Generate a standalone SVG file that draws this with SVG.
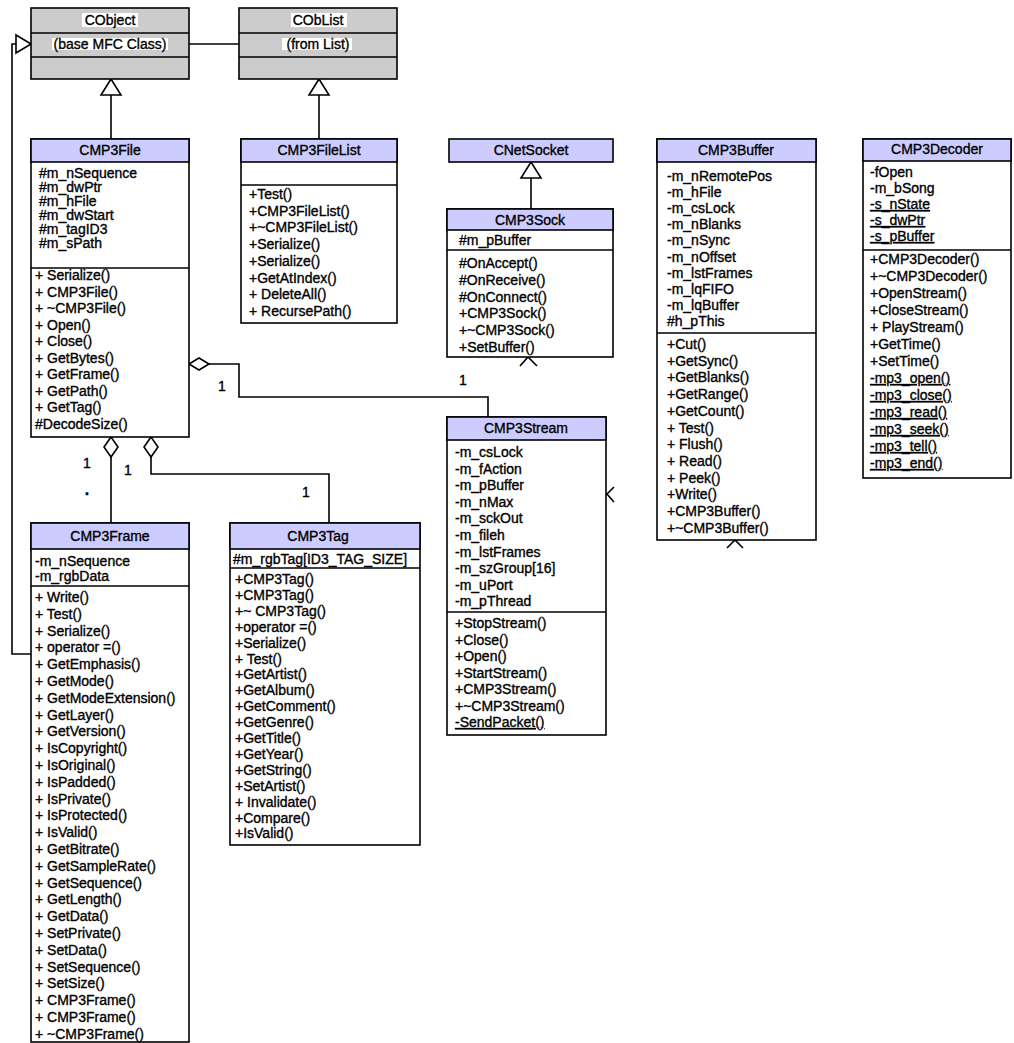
<svg xmlns="http://www.w3.org/2000/svg" width="1014" height="1043" viewBox="0 0 1014 1043">
  <style>
    text { font-family: "Liberation Sans", Arial, sans-serif; font-size: 14px; fill: #000; stroke: #000; stroke-width: 0.35; }
    .c { text-anchor: middle; }
    .u { text-decoration: underline; }
    .dot { font-weight: bold; font-size: 16px; }
    .box { fill: #fff; stroke: #000; stroke-width: 1.6; }
    .gray { fill: #cccccc; stroke: #000; stroke-width: 1.6; }
    .hd { fill: #ccccff; stroke: #000; stroke-width: 1.6; }
    .sep { stroke: #000; stroke-width: 1.6; }
    .ln { fill: none; stroke: #000; stroke-width: 1.6; }
    .dia { fill: #fff; stroke: #000; stroke-width: 1.6; }
    .hl { fill: #fff; }
  </style>
  <defs>
    <!-- hollow generalization triangle, apex at origin pointing up -->
    <polygon id="tri" points="0,0 -10,16 10,16" class="dia"/>
  </defs>

  <rect width="1014" height="1043" fill="#fff"/>

  <!-- ===== connectors ===== -->
  <g id="connectors">
    <!-- CObject - CObList association -->
    <line class="ln" x1="189" y1="44" x2="239" y2="44"/>
    <!-- CMP3File inherits CObject -->
    <line class="ln" x1="111" y1="139" x2="111" y2="95"/>
    <use href="#tri" x="111" y="79"/>
    <!-- CMP3FileList inherits CObList -->
    <line class="ln" x1="319" y1="139" x2="319" y2="95"/>
    <use href="#tri" x="319" y="79"/>
    <!-- CMP3Sock inherits CNetSocket -->
    <line class="ln" x1="531" y1="209" x2="531" y2="178"/>
    <use href="#tri" x="531" y="162"/>
    <!-- CMP3Frame inherits CObject -->
    <path class="ln" d="M31,654 H12 V44 H16"/>
    <polygon class="dia" points="31,44 16,35 16,53"/>

    <!-- CMP3File aggregates CMP3Stream -->
    <path class="ln" d="M209,364 H239 V397 H488 V417"/>
    <polygon class="dia" points="189,364 199,358 209,364 199,370"/>
    <text x="222" y="391" class="c">1</text>
    <text x="463" y="385" class="c">1</text>

    <!-- CMP3File aggregates CMP3Frame -->
    <line class="ln" x1="111" y1="457" x2="111" y2="523"/>
    <polygon class="dia" points="111,437 118,447 111,457 104,447"/>
    <text x="87" y="468" class="c">1</text>
    <text x="87" y="495" class="c dot">.</text>
    <text x="128" y="475" class="c">1</text>

    <!-- CMP3File aggregates CMP3Tag -->
    <path class="ln" d="M151,457 V474 H329 V523"/>
    <polygon class="dia" points="151,437 158,447 151,457 144,447"/>
    <text x="306" y="497" class="c">1</text>

    <!-- navigability arrowheads -->
    <polyline class="ln" points="520,366 528,357 537,366"/>
    <polyline class="ln" points="727,548 735,540 743,548"/>
    <polyline class="ln" points="614,487 607,494 614,502"/>
  </g>

  <!-- ===== CObject ===== -->
  <g id="CObject">
    <rect class="gray" x="31" y="8" width="158" height="71"/>
    <line class="sep" x1="31" y1="33" x2="189" y2="33"/>
    <line class="sep" x1="31" y1="57" x2="189" y2="57"/>
    <rect class="hl" x="82" y="13" width="56" height="14"/>
    <text x="110" y="25" class="c">CObject</text>
    <rect class="hl" x="52" y="38" width="116" height="12"/>
    <text x="110" y="49" class="c">(base MFC Class)</text>
  </g>

  <!-- ===== CObList ===== -->
  <g id="CObList">
    <rect class="gray" x="239" y="8" width="158" height="71"/>
    <line class="sep" x1="239" y1="33" x2="397" y2="33"/>
    <line class="sep" x1="239" y1="57" x2="397" y2="57"/>
    <rect class="hl" x="291" y="13" width="56" height="14"/>
    <text x="318" y="25" class="c">CObList</text>
    <rect class="hl" x="282" y="38" width="70" height="12"/>
    <text x="318" y="49" class="c">(from List)</text>
  </g>

  <!-- ===== CMP3File ===== -->
  <g id="CMP3File">
    <rect class="box" x="31" y="139" width="158" height="298"/>
    <rect class="hd" x="31" y="139" width="158" height="23"/>
    <line class="sep" x1="31" y1="268" x2="189" y2="268"/>
    <text x="110" y="155" class="c">CMP3File</text>
    <text x="39" y="178">#m_nSequence</text>
    <text x="39" y="192">#m_dwPtr</text>
    <text x="39" y="206">#m_hFile</text>
    <text x="39" y="220">#m_dwStart</text>
    <text x="39" y="234">#m_tagID3</text>
    <text x="39" y="248">#m_sPath</text>
    <text x="35" y="280">+ Serialize()</text>
    <text x="35" y="296.5">+ CMP3File()</text>
    <text x="35" y="313">+ ~CMP3File()</text>
    <text x="35" y="329.5">+ Open()</text>
    <text x="35" y="346">+ Close()</text>
    <text x="35" y="362.5">+ GetBytes()</text>
    <text x="35" y="379">+ GetFrame()</text>
    <text x="35" y="395.5">+ GetPath()</text>
    <text x="35" y="412">+ GetTag()</text>
    <text x="35" y="428.5">#DecodeSize()</text>
  </g>

  <!-- ===== CMP3FileList ===== -->
  <g id="CMP3FileList">
    <rect class="box" x="241" y="139" width="156" height="184"/>
    <rect class="hd" x="241" y="139" width="156" height="23"/>
    <line class="sep" x1="241" y1="185" x2="397" y2="185"/>
    <text x="319" y="155" class="c">CMP3FileList</text>
    <text x="249" y="199">+Test()</text>
    <text x="249" y="215.7">+CMP3FileList()</text>
    <text x="249" y="232.4">+~CMP3FileList()</text>
    <text x="249" y="249.1">+Serialize()</text>
    <text x="249" y="265.8">+Serialize()</text>
    <text x="249" y="282.5">+GetAtIndex()</text>
    <text x="249" y="299.2">+ DeleteAll()</text>
    <text x="249" y="315.9">+ RecursePath()</text>
  </g>

  <!-- ===== CNetSocket ===== -->
  <g id="CNetSocket">
    <rect class="hd" x="449" y="139" width="164" height="23"/>
    <text x="531" y="155" class="c">CNetSocket</text>
  </g>

  <!-- ===== CMP3Sock ===== -->
  <g id="CMP3Sock">
    <rect class="box" x="447" y="209" width="166" height="148"/>
    <rect class="hd" x="447" y="209" width="166" height="21"/>
    <line class="sep" x1="447" y1="250" x2="613" y2="250"/>
    <text x="530" y="225" class="c">CMP3Sock</text>
    <text x="459" y="245">#m_pBuffer</text>
    <text x="459" y="268">#OnAccept()</text>
    <text x="459" y="284.8">#OnReceive()</text>
    <text x="459" y="301.6">#OnConnect()</text>
    <text x="459" y="318.4">+CMP3Sock()</text>
    <text x="459" y="335.2">+~CMP3Sock()</text>
    <text x="459" y="352">+SetBuffer()</text>
  </g>

  <!-- ===== CMP3Buffer ===== -->
  <g id="CMP3Buffer">
    <rect class="box" x="657" y="139" width="159" height="401"/>
    <rect class="hd" x="657" y="139" width="159" height="23"/>
    <line class="sep" x1="657" y1="333" x2="816" y2="333"/>
    <text x="736" y="155" class="c">CMP3Buffer</text>
    <text x="667" y="181">-m_nRemotePos</text>
    <text x="667" y="197.1">-m_hFile</text>
    <text x="667" y="213.2">-m_csLock</text>
    <text x="667" y="229.3">-m_nBlanks</text>
    <text x="667" y="245.4">-m_nSync</text>
    <text x="667" y="261.5">-m_nOffset</text>
    <text x="667" y="277.6">-m_lstFrames</text>
    <text x="667" y="293.7">-m_lqFIFO</text>
    <text x="667" y="309.8">-m_lqBuffer</text>
    <text x="667" y="325.9">#h_pThis</text>
    <text x="667" y="349">+Cut()</text>
    <text x="667" y="365.7">+GetSync()</text>
    <text x="667" y="382.4">+GetBlanks()</text>
    <text x="667" y="399.1">+GetRange()</text>
    <text x="667" y="415.8">+GetCount()</text>
    <text x="667" y="432.5">+ Test()</text>
    <text x="667" y="449.2">+ Flush()</text>
    <text x="667" y="465.9">+ Read()</text>
    <text x="667" y="482.6">+ Peek()</text>
    <text x="667" y="499.3">+Write()</text>
    <text x="667" y="516">+CMP3Buffer()</text>
    <text x="667" y="532.7">+~CMP3Buffer()</text>
  </g>

  <!-- ===== CMP3Decoder ===== -->
  <g id="CMP3Decoder">
    <rect class="box" x="863" y="139" width="148" height="339"/>
    <rect class="hd" x="863" y="139" width="148" height="22"/>
    <line class="sep" x1="863" y1="250" x2="1011" y2="250"/>
    <text x="937" y="154" class="c">CMP3Decoder</text>
    <text x="870" y="177">-fOpen</text>
    <text x="870" y="193">-m_bSong</text>
    <text x="870" y="209" class="u">-s_nState</text>
    <text x="870" y="225" class="u">-s_dwPtr</text>
    <text x="870" y="241" class="u">-s_pBuffer</text>
    <text x="870" y="264">+CMP3Decoder()</text>
    <text x="870" y="281">+~CMP3Decoder()</text>
    <text x="870" y="298">+OpenStream()</text>
    <text x="870" y="315">+CloseStream()</text>
    <text x="870" y="332">+ PlayStream()</text>
    <text x="870" y="349">+GetTime()</text>
    <text x="870" y="366">+SetTime()</text>
    <text x="870" y="383" class="u">-mp3_open()</text>
    <text x="870" y="400" class="u">-mp3_close()</text>
    <text x="870" y="417" class="u">-mp3_read()</text>
    <text x="870" y="434" class="u">-mp3_seek()</text>
    <text x="870" y="451" class="u">-mp3_tell()</text>
    <text x="870" y="468" class="u">-mp3_end()</text>
  </g>

  <!-- ===== CMP3Stream ===== -->
  <g id="CMP3Stream">
    <rect class="box" x="447" y="417" width="159" height="318"/>
    <rect class="hd" x="447" y="417" width="159" height="23"/>
    <line class="sep" x1="447" y1="612" x2="606" y2="612"/>
    <text x="526" y="433" class="c">CMP3Stream</text>
    <text x="455" y="457">-m_csLock</text>
    <text x="455" y="473.6">-m_fAction</text>
    <text x="455" y="490.2">-m_pBuffer</text>
    <text x="455" y="506.8">-m_nMax</text>
    <text x="455" y="523.4">-m_sckOut</text>
    <text x="455" y="540">-m_fileh</text>
    <text x="455" y="556.6">-m_lstFrames</text>
    <text x="455" y="573.2">-m_szGroup[16]</text>
    <text x="455" y="589.8">-m_uPort</text>
    <text x="455" y="606.4">-m_pThread</text>
    <text x="455" y="628">+StopStream()</text>
    <text x="455" y="644.5">+Close()</text>
    <text x="455" y="661">+Open()</text>
    <text x="455" y="677.5">+StartStream()</text>
    <text x="455" y="694">+CMP3Stream()</text>
    <text x="455" y="710.5">+~CMP3Stream()</text>
    <text x="455" y="727" class="u">-SendPacket()</text>
  </g>

  <!-- ===== CMP3Frame ===== -->
  <g id="CMP3Frame">
    <rect class="box" x="31" y="523" width="158" height="519"/>
    <rect class="hd" x="31" y="523" width="158" height="26"/>
    <line class="sep" x1="31" y1="586" x2="189" y2="586"/>
    <text x="110" y="541" class="c">CMP3Frame</text>
    <text x="35" y="566">-m_nSequence</text>
    <text x="35" y="580.5">-m_rgbData</text>
    <text x="35" y="602">+ Write()</text>
    <text x="35" y="618.8">+ Test()</text>
    <text x="35" y="635.6">+ Serialize()</text>
    <text x="35" y="652.4">+ operator =()</text>
    <text x="35" y="669.2">+ GetEmphasis()</text>
    <text x="35" y="686">+ GetMode()</text>
    <text x="35" y="702.8">+ GetModeExtension()</text>
    <text x="35" y="719.6">+ GetLayer()</text>
    <text x="35" y="736.4">+ GetVersion()</text>
    <text x="35" y="753.2">+ IsCopyright()</text>
    <text x="35" y="770">+ IsOriginal()</text>
    <text x="35" y="786.8">+ IsPadded()</text>
    <text x="35" y="803.6">+ IsPrivate()</text>
    <text x="35" y="820.4">+ IsProtected()</text>
    <text x="35" y="837.2">+ IsValid()</text>
    <text x="35" y="854">+ GetBitrate()</text>
    <text x="35" y="870.8">+ GetSampleRate()</text>
    <text x="35" y="887.6">+ GetSequence()</text>
    <text x="35" y="904.4">+ GetLength()</text>
    <text x="35" y="921.2">+ GetData()</text>
    <text x="35" y="938">+ SetPrivate()</text>
    <text x="35" y="954.8">+ SetData()</text>
    <text x="35" y="971.6">+ SetSequence()</text>
    <text x="35" y="988.4">+ SetSize()</text>
    <text x="35" y="1005.2">+ CMP3Frame()</text>
    <text x="35" y="1022">+ CMP3Frame()</text>
    <text x="35" y="1038.8">+ ~CMP3Frame()</text>
  </g>

  <!-- ===== CMP3Tag ===== -->
  <g id="CMP3Tag">
    <rect class="box" x="230" y="523" width="190" height="322"/>
    <rect class="hd" x="230" y="523" width="190" height="26"/>
    <line class="sep" x1="230" y1="568" x2="420" y2="568"/>
    <text x="318" y="541" class="c">CMP3Tag</text>
    <text x="233" y="564">#m_rgbTag[ID3_TAG_SIZE]</text>
    <text x="235" y="584">+CMP3Tag()</text>
    <text x="235" y="599.9">+CMP3Tag()</text>
    <text x="235" y="615.8">+~ CMP3Tag()</text>
    <text x="235" y="631.7">+operator =()</text>
    <text x="235" y="647.6">+Serialize()</text>
    <text x="235" y="663.5">+ Test()</text>
    <text x="235" y="679.4">+GetArtist()</text>
    <text x="235" y="695.3">+GetAlbum()</text>
    <text x="235" y="711.2">+GetComment()</text>
    <text x="235" y="727.1">+GetGenre()</text>
    <text x="235" y="743">+GetTitle()</text>
    <text x="235" y="758.9">+GetYear()</text>
    <text x="235" y="774.8">+GetString()</text>
    <text x="235" y="790.7">+SetArtist()</text>
    <text x="235" y="806.6">+ Invalidate()</text>
    <text x="235" y="822.5">+Compare()</text>
    <text x="235" y="838.4">+IsValid()</text>
  </g>
</svg>
